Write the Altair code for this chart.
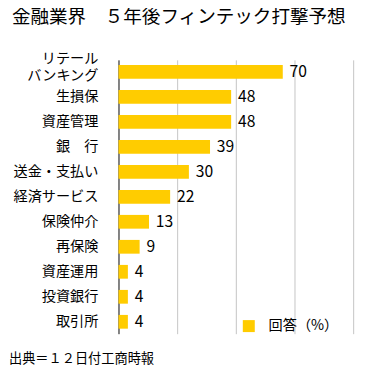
import altair as alt
import pandas as pd

categories = ["リテール\nバンキング", "生損保", "資産管理", "銀　行", "送金・支払い",
              "経済サービス", "保険仲介", "再保険", "資産運用", "投資銀行", "取引所"]
values = [70, 48, 48, 39, 30, 22, 13, 9, 4, 4, 4]
series_name = "回答（%）"
title_text = "金融業界　５年後フィンテック打撃予想"
source_text = "出典＝１２日付工商時報"

df = pd.DataFrame({"cat": categories, "val": values, "series": [series_name] * len(values)})

FONT = "Noto Sans CJK JP"
YELLOW = "#FFCC00"

base = alt.Chart(df).encode(
    y=alt.Y("cat:N", sort=categories, title=None,
            scale=alt.Scale(paddingInner=0.45, paddingOuter=0.2),
            axis=alt.Axis(labelExpr="split(datum.label, '\\n')", labelFont=FONT,
                          labelFontSize=14.5, labelLineHeight=17, labelColor="#000",
                          labelPadding=21, ticks=False, domainColor="#222",
                          labelOffset={"condition": {"test": "indexof(datum.label, '\\n') >= 0",
                                                     "value": -13}, "value": 0},
                          domainWidth=1, grid=False, labelLimit=200)),
)

bars = base.mark_bar().encode(
    x=alt.X("val:Q", title=None, scale=alt.Scale(domain=[0, 100], nice=False),
            axis=alt.Axis(values=[0, 25, 50, 75, 100], labels=False, ticks=False,
                          domain=False, grid=True, gridColor="#c4c4c4", gridWidth=1)),
    color=alt.Color("series:N", scale=alt.Scale(range=[YELLOW]), title=None,
                    legend=alt.Legend(orient="none", legendX=126, legendY=265,
                                      symbolType="square", symbolSize=150,
                                      symbolStrokeWidth=0, labelFont=FONT,
                                      labelFontSize=14.5, labelColor="#000",
                                      labelOffset=13)),
)

labels = base.mark_text(align="left", baseline="middle", dx=7, font=FONT,
                        fontSize=16, color="#000").encode(
    x=alt.X("val:Q"),
    text=alt.Text("val:Q"),
)

source = alt.Chart(pd.DataFrame({"t": [source_text]})).mark_text(
    align="left", baseline="middle", font=FONT, fontSize=13.5, color="#000"
).encode(x=alt.value(-112), y=alt.value(306), text="t:N")

chart = (bars + labels + source).properties(
    width=240, height=280,
    title=alt.TitleParams(text=title_text, anchor="start", frame="group", dx=-109,
                          font=FONT, fontSize=19, fontWeight="normal", color="#000",
                          offset=24),
    autosize=alt.AutoSizeParams(type="none"),
    padding={"left": 113, "top": 49, "right": 8, "bottom": 29},
).configure_view(stroke=None)

chart.save("out.html", embed_options={"renderer": "svg", "actions": False})
